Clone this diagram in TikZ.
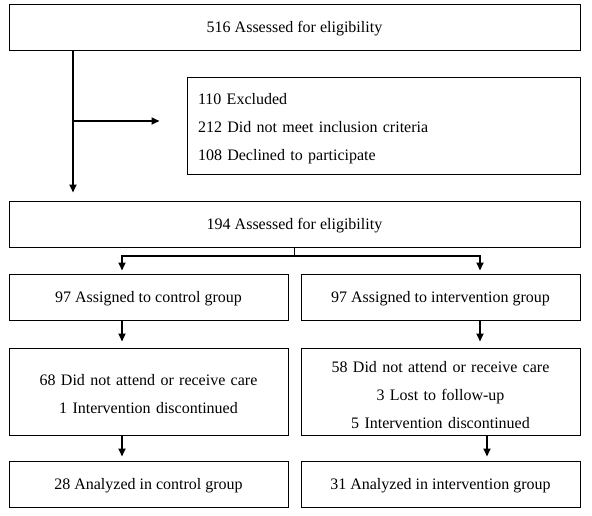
\documentclass[tikz,border=0pt]{standalone}
\usepackage{fontspec}
\setmainfont{Liberation Serif}
\usetikzlibrary{arrows.meta}

\tikzset{
  box/.style={draw, line width=1pt, inner sep=0pt, align=center, text depth=-5pt,
    font=\fontsize{16}{28}\selectfont},
  flow/.style={line width=1.8pt, -{Triangle[length=8pt,width=7pt]}}
}

\begin{document}
\begin{tikzpicture}[x=1pt,y=-1pt]
\useasboundingbox (0,0) rectangle (592,515);

\node [box, minimum width=571pt, minimum height=46pt] (assess1) at (294.5,27) {516 Assessed for eligibility};
\node [box, minimum width=393pt, minimum height=97pt, text width=371pt, inner xsep=11pt, align=left, text depth=52.5pt] (excl) at (383.5,125.5)
  {110 Excluded\\212 Did not meet inclusion criteria\\108 Declined to participate};
\node [box, minimum width=571pt, minimum height=46pt] (assess2) at (294.5,224) {194 Assessed for eligibility};

\node [box, minimum width=279pt, minimum height=46pt] (ctrl) at (148.5,297) {97 Assigned to control group};
\node [box, minimum width=279pt, minimum height=46pt] (intv) at (440.5,297) {97 Assigned to intervention group};

\node [box, minimum width=279pt, minimum height=87pt, text width=279pt, text depth=23pt] (ctrlloss) at (148.5,391.5)
  {68 Did not attend or receive care\\1 Intervention discontinued};
\node [box, minimum width=279pt, minimum height=87pt, text width=279pt, text depth=50pt] (intvloss) at (440.5,391.5)
  {58 Did not attend or receive care\\3 Lost to follow-up\\5 Intervention discontinued};

\node [box, minimum width=279pt, minimum height=46pt] (ctrlend) at (148.5,484) {28 Analyzed in control group};
\node [box, minimum width=279pt, minimum height=46pt] (intvend) at (440.5,484) {31 Analyzed in intervention group};

\coordinate (split) at (73,121);
\coordinate (fork) at (294.5,256);
\coordinate (laneL) at (122,0);
\coordinate (laneR) at (480,0);
\coordinate (laneRR) at (487,0);

% enrolment
\draw [flow, shorten >=8pt] (assess1.south -| split) -- (assess2.north -| split);
\draw [flow, shorten >=27pt] (split) -- (excl.west |- split);

% allocation
\draw [line width=1.8pt] (assess2.south) -- (fork);
\draw [flow, shorten >=3pt] (fork) -| (ctrl.north -| laneL);
\draw [flow, shorten >=3pt] (fork) -| (intv.north -| laneR);

% follow-up
\draw [flow, shorten >=6pt] (ctrl.south -| laneL) -- (ctrlloss.north -| laneL);
\draw [flow, shorten >=6pt] (intv.south -| laneR) -- (intvloss.north -| laneR);

% analysis
\draw [flow, shorten >=4pt] (ctrlloss.south -| laneL) -- (ctrlend.north -| laneL);
\draw [flow, shorten >=4pt] (intvloss.south -| laneRR) -- (intvend.north -| laneRR);

\end{tikzpicture}
\end{document}
